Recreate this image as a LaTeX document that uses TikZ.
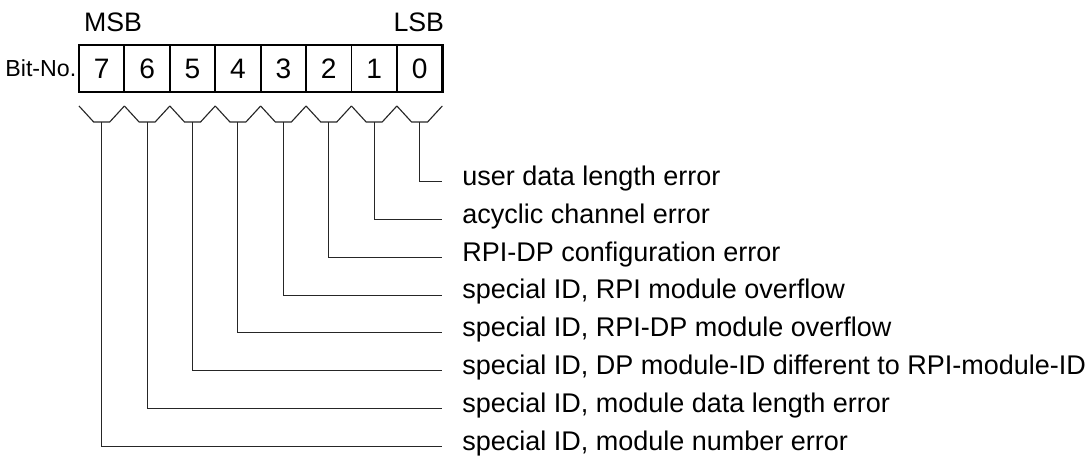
\documentclass[tikz,border=0pt]{standalone}
\usepackage{fontspec}
\setmainfont{Liberation Sans}
\usetikzlibrary{positioning,calc}
\tikzset{
  cell/.style={
    draw, line width=1.3pt, outer sep=0pt, inner sep=0pt,
    minimum width=1.135cm, minimum height=1.175cm,
    font=\fontsize{20}{22}\selectfont,
  },
  frame/.style={draw, line width=1.9pt},
  tag/.style={font=\fontsize{19}{21}\selectfont, inner sep=0pt},
  bitno/.style={font=\fontsize{16.5}{18}\selectfont, inner sep=0pt},
  errlabel/.style={
    anchor=west, inner sep=0pt, text height=1ex, text depth=0pt,
    font=\fontsize{19.2}{22}\selectfont,
  },
  leader/.style={line width=0.8pt, black!85},
}

\begin{document}
\begin{tikzpicture}[x=0.025cm, y=0.025cm]
\useasboundingbox (0,0) rectangle (1085,457);

% ---- register cells, MSB left ---------------------------------------------
\node[cell] (b7) at (101.7,388.5) {7};
\foreach \b [evaluate=\b as \p using int(\b+1)] in {6,...,0}
  \node[cell, right=0pt of b\p] (b\b) {\b};
\draw[frame] (b7.north west) rectangle (b0.south east);

\node[bitno, anchor=east, xshift=-0.06cm] (bitno) at (b7.west) {Bit-No.};
\node[tag, anchor=base west] (msb) at ([xshift=0.12cm, yshift=0.33cm]b7.north west) {MSB};
\node[tag, anchor=base east] (lsb) at ([xshift=0.05cm, yshift=0.33cm]b0.north east) {LSB};

% ---- error texts -----------------------------------------------------------
\foreach \b/\txt in {
  0/user data length error,
  1/acyclic channel error,
  2/RPI-DP configuration error,
  3/{special ID, RPI module overflow},
  4/{special ID, RPI-DP module overflow},
  5/{special ID, DP module-ID different to RPI-module-ID},
  6/{special ID, module data length error},
  7/{special ID, module number error}}
  \node[errlabel] (l\b) at (462,{275.3-37.8*\b}) {\txt};

% ---- braces and leaders ----------------------------------------------------
\foreach \b in {0,...,7} {
  \coordinate (t\b) at ([yshift=-0.75cm]b\b.south);
  \draw[leader] ([yshift=-0.35cm]b\b.south west) -- ([xshift=-0.2cm]t\b)
    -- ([xshift=0.2cm]t\b) -- ([yshift=-0.35cm]b\b.south east);
  \draw[leader] (t\b) |- (b0.east |- l\b.west);
}

\end{tikzpicture}
\end{document}
